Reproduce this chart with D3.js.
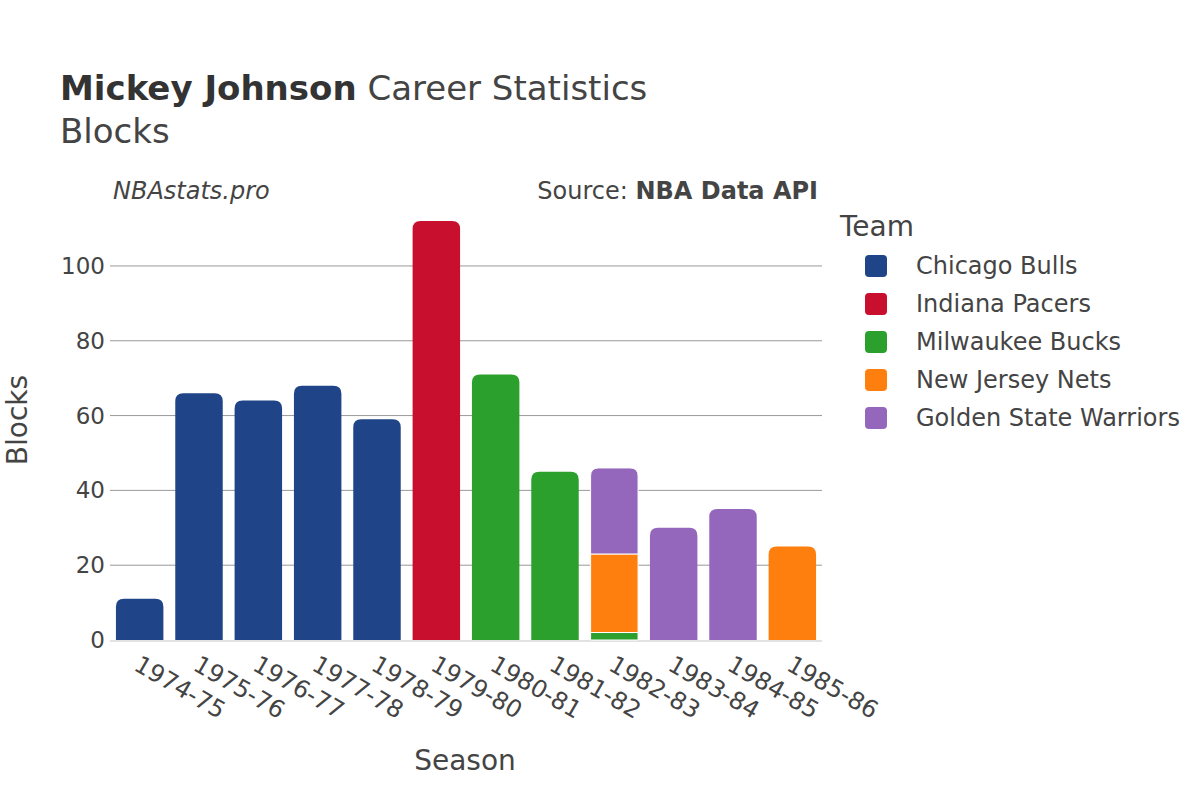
<!DOCTYPE html>
<html><head><meta charset="utf-8">
<script src="https://cdn.jsdelivr.net/npm/d3@7"></script>
<style>body{margin:0;background:#fff;}text{font-family:"DejaVu Sans",sans-serif;fill:#444;}</style>
</head><body><svg id="c" width="1200" height="800"></svg>
<script>
const seasons = ["1974-75","1975-76","1976-77","1977-78","1978-79","1979-80","1980-81","1981-82","1982-83","1983-84","1984-85","1985-86"];
const teams = ["Chicago Bulls","Indiana Pacers","Milwaukee Bucks","New Jersey Nets","Golden State Warriors"];
const colors = ["#1f4588","#c8102e","#2ca02c","#ff7f0e","#9467bd"];
const chicagoBulls = [11,66,64,68,59,0,0,0,0,0,0,0];
const indianaPacers = [0,0,0,0,0,112,0,0,0,0,0,0];
const milwaukeeBucks = [0,0,0,0,0,0,71,45,2,0,0,0];
const newJerseyNets = [0,0,0,0,0,0,0,0,21,0,0,25];
const goldenStateWarriors = [0,0,0,0,0,0,0,0,23,30,35,0];
const yTicks = [0,20,40,60,80,100];
const series = [chicagoBulls,indianaPacers,milwaukeeBucks,newJerseyNets,goldenStateWarriors];

const svg = d3.select("#c");
const L=110,R=822,T=199,B=640;
const x = d3.scaleBand().domain(seasons).range([L,R]).paddingInner(0.2).paddingOuter(0.1);
const y = d3.scaleLinear().domain([0,117.9]).range([B,T]);

// grid
svg.append("g").selectAll("line").data(yTicks.filter(d=>d>0)).join("line")
 .attr("x1",L).attr("x2",R).attr("y1",d=>y(d)).attr("y2",d=>y(d))
 .attr("stroke","#999").attr("stroke-width",1);
svg.append("line").attr("x1",L).attr("x2",R).attr("y1",y(0)+1).attr("y2",y(0)+1).attr("stroke","#e2e2e2").attr("stroke-width",2);

// y ticks
svg.append("g").selectAll("text").data(yTicks).join("text")
 .attr("x",L-5).attr("y",d=>y(d)).attr("dy","0.35em").attr("text-anchor","end")
 .attr("font-size",23).text(d=>d);

// bars
function roundTop(x0,y0,w,h,r){
  r=Math.min(r,h,w/2);
  return `M${x0},${y0+h}V${y0+r}Q${x0},${y0} ${x0+r},${y0}H${x0+w-r}Q${x0+w},${y0} ${x0+w},${y0+r}V${y0+h}Z`;
}
const bw = x.bandwidth();
seasons.forEach((s,i)=>{
  let base=0;
  const segs=[];
  series.forEach((arr,k)=>{ if(arr[i]>0){ segs.push({k,lo:base,hi:base+arr[i]}); base+=arr[i]; } });
  segs.forEach((sg,j)=>{
    const top=j===segs.length-1;
    const y0=y(sg.hi), h=y(sg.lo)-y(sg.hi);
    svg.append("path")
      .attr("d", top? roundTop(x(s),y0,bw,h,8) : `M${x(s)},${y0}h${bw}v${h}h${-bw}Z`)
      .attr("fill",colors[sg.k]).attr("stroke","#fff").attr("stroke-width", segs.length>1?1:0);
  });
});

// x labels
svg.append("g").selectAll("text").data(seasons).join("text")
 .attr("transform",d=>`translate(${x(d)+bw/2-3},${B+22}) rotate(30)`)
 .attr("text-anchor","start").attr("dy","0.35em").attr("font-size",24).text(d=>d);

// titles
const t=svg.append("text").attr("x",60).attr("y",100).attr("font-size",34);
t.append("tspan").attr("font-weight","bold").style("fill","#333").text("Mickey Johnson");
t.append("tspan").text(" Career Statistics");
svg.append("text").attr("x",60).attr("y",143).attr("font-size",34).text("Blocks");
svg.append("text").attr("x",113).attr("y",199).attr("font-size",24).attr("font-style","italic").text("NBAstats.pro");
const s2=svg.append("text").attr("x",818).attr("y",199).attr("font-size",24).attr("text-anchor","end");
s2.append("tspan").text("Source: ");
s2.append("tspan").attr("font-weight","bold").text("NBA Data API");
svg.append("text").attr("x",465).attr("y",770).attr("font-size",28).attr("text-anchor","middle").text("Season");
svg.append("text").attr("transform","translate(17,420) rotate(-90)").attr("font-size",28).attr("text-anchor","middle").attr("dy","0.35em").text("Blocks");

// legend
svg.append("text").attr("x",840).attr("y",236).attr("font-size",28).text("Team");
const lg=svg.append("g").selectAll("g").data(teams).join("g").attr("transform",(d,i)=>`translate(865,${266+i*38})`);
lg.append("rect").attr("x",0).attr("y",-11).attr("width",22).attr("height",22).attr("rx",4).attr("fill",(d,i)=>colors[i]);
lg.append("text").attr("x",51).attr("dy","0.35em").attr("font-size",24).text(d=>d);
</script></body></html>
